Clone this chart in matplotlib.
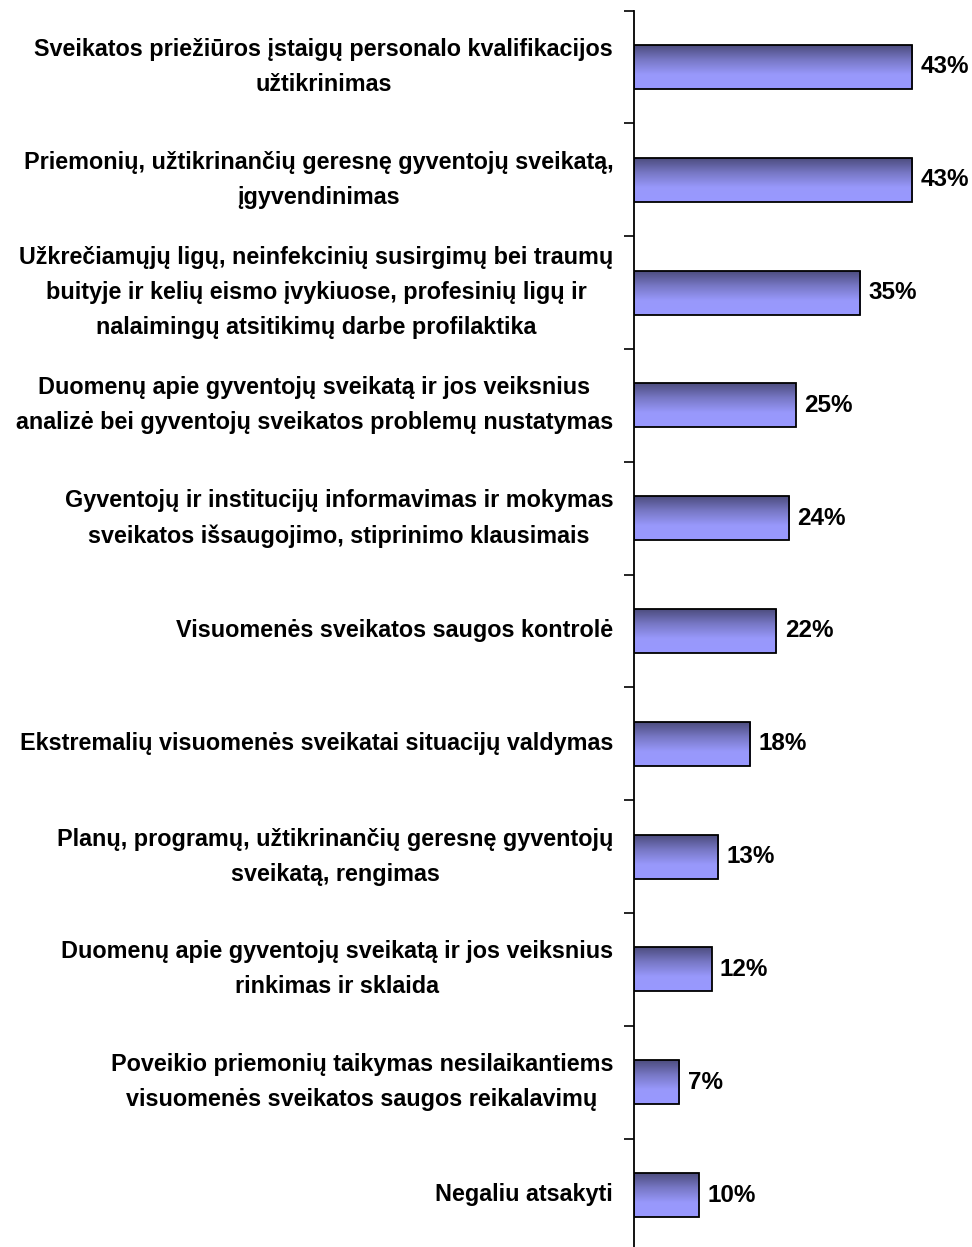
import matplotlib
matplotlib.use("Agg")
import matplotlib.pyplot as plt
import numpy as np
from matplotlib.colors import LinearSegmentedColormap
from matplotlib.transforms import ScaledTranslation

categories = [
    "Sveikatos priežiūros įstaigų personalo kvalifikacijos\nužtikrinimas",
    "Priemonių, užtikrinančių geresnę gyventojų sveikatą,\nįgyvendinimas",
    "Užkrečiamųjų ligų, neinfekcinių susirgimų bei traumų\nbuityje ir kelių eismo įvykiuose, profesinių ligų ir\nnalaimingų atsitikimų darbe profilaktika",
    "Duomenų apie gyventojų sveikatą ir jos veiksnius\nanalizė bei gyventojų sveikatos problemų nustatymas",
    "Gyventojų ir institucijų informavimas ir mokymas\nsveikatos išsaugojimo, stiprinimo klausimais",
    "Visuomenės sveikatos saugos kontrolė",
    "Ekstremalių visuomenės sveikatai situacijų valdymas",
    "Planų, programų, užtikrinančių geresnę gyventojų\nsveikatą, rengimas",
    "Duomenų apie gyventojų sveikatą ir jos veiksnius\nrinkimas ir sklaida",
    "Poveikio priemonių taikymas nesilaikantiems\nvisuomenės sveikatos saugos reikalavimų",
    "Negaliu atsakyti",
]
values = [43, 43, 35, 25, 24, 22, 18, 13, 12, 7, 10]
value_labels = ["43%", "43%", "35%", "25%", "24%", "22%", "18%", "13%", "12%", "7%", "10%"]

plt.rcParams['font.family'] = ['Liberation Sans', 'DejaVu Sans']

W, H = 972, 1247
fig = plt.figure(figsize=(W / 100, H / 100), dpi=100)
left = 634 / W
x_max = 50
px_per = (913 - 635) / 43
width = px_per * x_max / W
top_px = 10.6
bot_px = 1251.4
ax = fig.add_axes([left, 1 - bot_px / H, width, (bot_px - top_px) / H])

n = len(categories)
y = np.arange(n)
bar_h = 0.39
bars = ax.barh(y, values, height=bar_h, color='none', edgecolor='black', linewidth=1.3, zorder=3)

cmap = LinearSegmentedColormap.from_list('g', ['#4c4c7e', '#7777c4', '#9898fb', '#9999ff'])
grad = np.linspace(0, 1, 256).reshape(-1, 1)
for b, v in zip(bars, values):
    x0, y0 = b.get_x(), b.get_y()
    w_, h_ = b.get_width(), b.get_height()
    im = ax.imshow(grad, cmap=cmap, aspect='auto', origin='upper',
                   extent=[x0, x0 + w_, y0 + h_, y0], zorder=2, interpolation='bilinear')
    im.set_clip_path(b)

for yi, v, lab in zip(y, values, value_labels):
    ax.text(v + 1.3, yi, lab, va='center', ha='left', fontsize=17.5, fontweight='bold', zorder=4)

ax.set_xlim(0, x_max)
ax.set_ylim(n - 0.5, -0.5)
ax.set_yticks(y)
ax.set_yticklabels(categories, fontsize=16.8, fontweight='bold', multialignment='center', linespacing=1.67)
off = ScaledTranslation(0, -2.5 / 100, fig.dpi_scale_trans)
for t in ax.get_yticklabels():
    t.set_va('center')
    t.set_transform(t.get_transform() + off)
ax.tick_params(axis='y', which='major', length=0, pad=15)
ax.set_yticks(np.arange(-0.5, n, 1), minor=True)
ax.tick_params(axis='y', which='minor', length=7, width=1.2, direction='out')
for s in ['top', 'right', 'bottom']:
    ax.spines[s].set_visible(False)
ax.spines['left'].set_linewidth(1.3)
ax.set_xticks([])
ax.patch.set_alpha(0)

fig.savefig('out.png', dpi=100)
